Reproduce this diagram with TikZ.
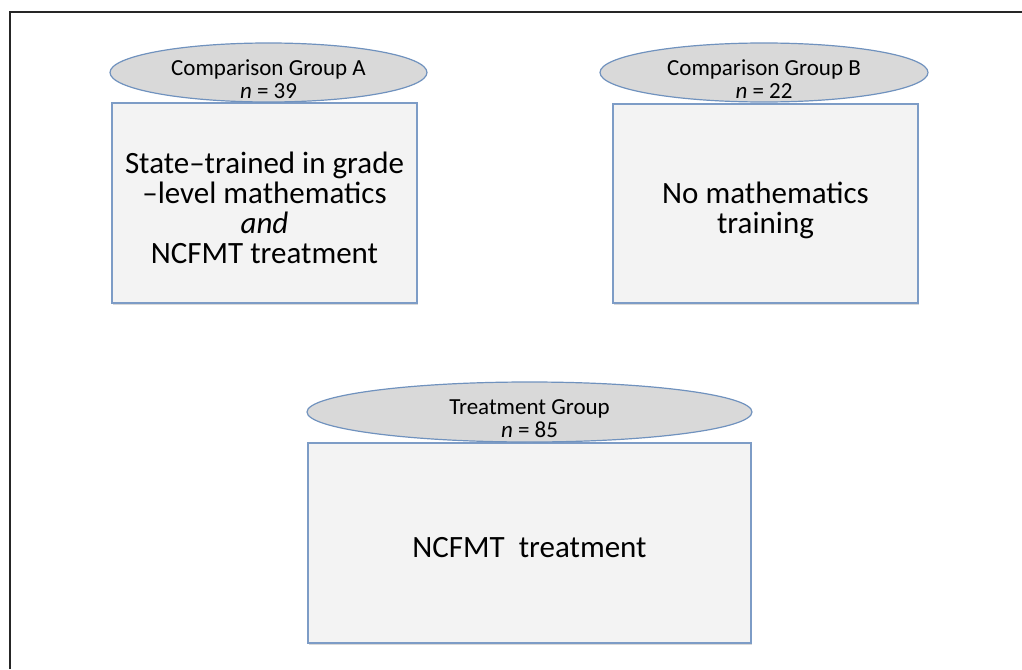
\documentclass[tikz,border=0pt]{standalone}
\usepackage{fontspec}
\setmainfont{Carlito}
\usepackage{tikz}
\usetikzlibrary{shapes.geometric,shadows}

\definecolor{ovalfill}{RGB}{217,217,217}
\definecolor{ovalline}{RGB}{112,146,190}
\definecolor{boxfill}{RGB}{243,243,243}
\definecolor{boxline}{RGB}{125,156,198}

\begin{document}
\begin{tikzpicture}[x=1pt, y=-1pt]
        \tikzset{grpbox/.style={rectangle, draw=boxline, fill=boxfill, line width=1.2pt, inner sep=0pt, align=center, font=\fontsize{31}{30}\selectfont, drop shadow={shadow xshift=1pt, shadow yshift=-2pt, opacity=0.3}}}
        \tikzset{grpoval/.style={ellipse, draw=ovalline, fill=ovalfill, line width=1.2pt, inner sep=0pt}}
        \tikzset{ovaltext/.style={align=center, inner sep=0pt, font=\fontsize{23}{23}\selectfont}}
        \useasboundingbox (0,0) rectangle (1022,669);
        % frame
        \draw[line width=1.3pt, black!85] (10,669) -- (10,12) -- (1022,12);
        % boxes
        \node[grpbox, minimum width=305, minimum height=200] (boxA) at (264.5,203) {\rule{0pt}{31pt}State–trained in grade\\ –level mathematics\\ \textit{and}\\ NCFMT treatment};
        \node[grpbox, minimum width=305, minimum height=199] (boxB) at (765.5,203.5) {\rule{0pt}{36pt}No mathematics\\ training};
        \node[grpbox, minimum width=443, minimum height=200] (boxT) at (529.5,543) {\rule{0pt}{30pt}NCFMT\ \ treatment};
        % top level
        \node[grpoval, minimum width=317, minimum height=59] (ovA) at (268.5,72.5) {};
        \node[grpoval, minimum width=328, minimum height=59] (ovB) at (764,72.5) {};
        \node[grpoval, minimum width=445, minimum height=60] (ovT) at (529.5,412) {};
        \node[ovaltext] (ovAtext) at ([yshift=-7pt]ovA.center) {Comparison Group A\\ \textit{n} = 39};
        \node[ovaltext] (ovBtext) at ([yshift=-7pt]ovB.center) {Comparison Group B\\ \textit{n} = 22};
        \node[ovaltext] (ovTtext) at ([yshift=-7pt]ovT.center) {Treatment Group\\ \textit{n} = 85};
      \end{tikzpicture}
\end{document}
